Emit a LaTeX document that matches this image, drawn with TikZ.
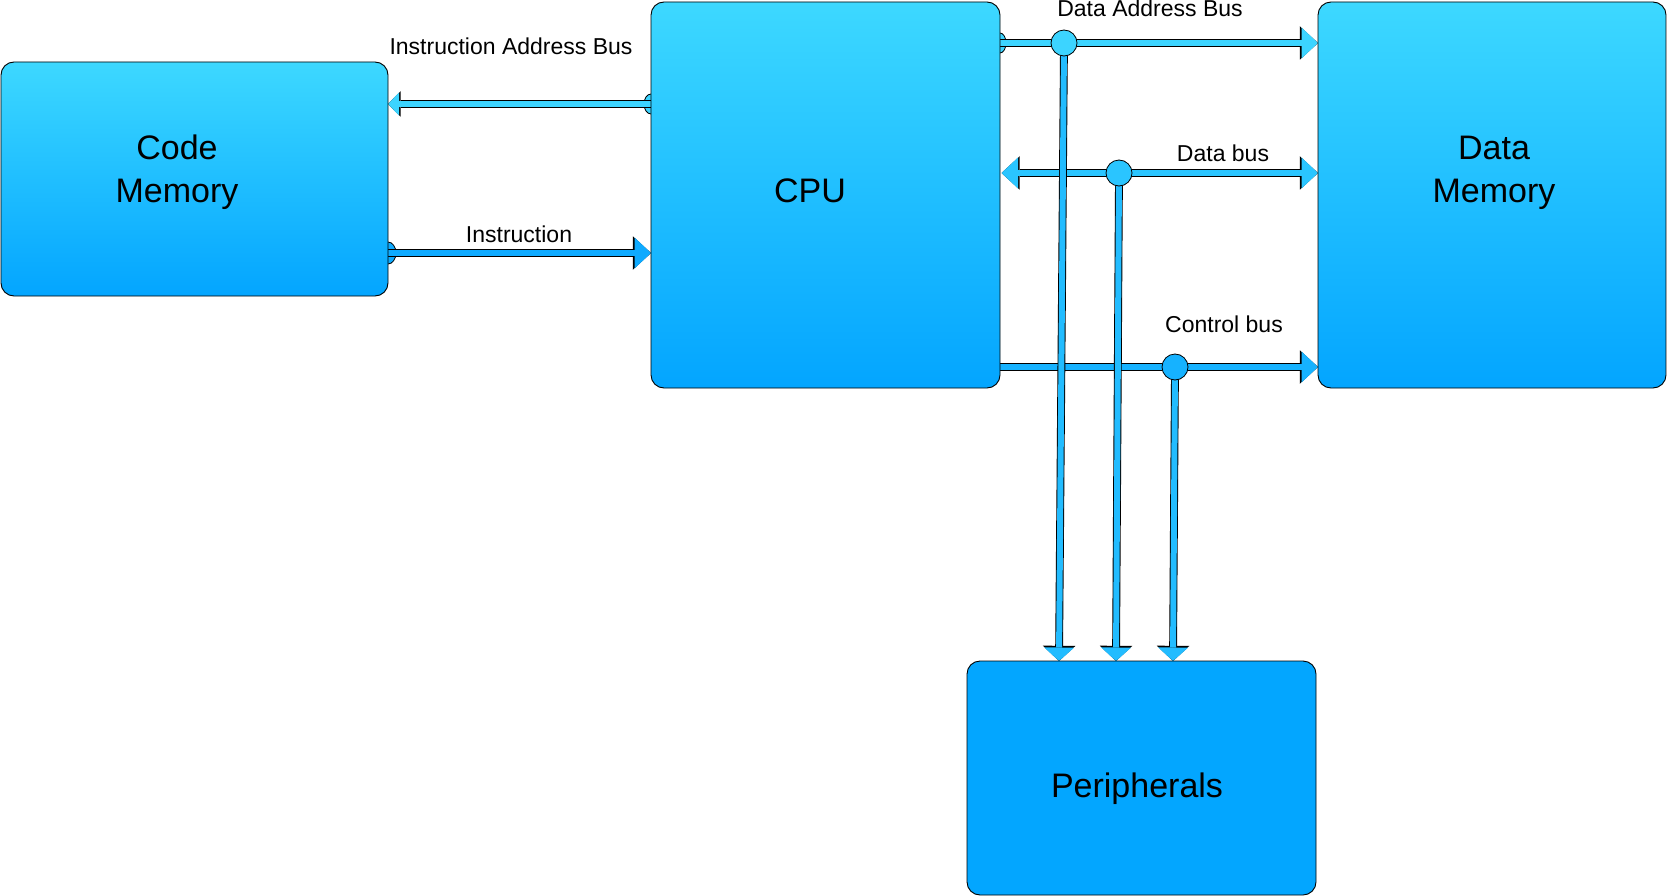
\documentclass[tikz,border=0pt]{standalone}
\usepackage{fontspec}
\setmainfont{Liberation Sans}
\usetikzlibrary{arrows.meta,calc}
\definecolor{boxtop}{RGB}{61,216,255}
\definecolor{boxbot}{RGB}{3,165,255}
\definecolor{perblue}{RGB}{3,166,255}
\definecolor{cLight}{RGB}{60,212,255}
\definecolor{cMid}{RGB}{42,197,255}
\definecolor{cDark}{RGB}{22,178,255}
\definecolor{cInstr}{RGB}{14,170,255}
\definecolor{cVert}{RGB}{34,188,255}
\pgfdeclarelayer{bg}
\pgfdeclarelayer{top}
\pgfsetlayers{bg,main,top}
\tikzset{
  box/.style={draw=black,line width=0.9pt,rounded corners=13pt,top color=boxtop,bottom color=boxbot,inner sep=0pt,outer sep=0pt},
  boxtext/.style={font=\fontsize{34}{43}\selectfont,align=center,inner sep=0pt},
  lbl/.style={font=\fontsize{23}{27}\selectfont,inner sep=0pt},
  tipS/.style={arrows={-Triangle[width=23pt,length=11pt,line width=0pt]}},
  tipSo/.style={arrows={-Triangle[width=25.5pt,length=12.6pt,line width=0pt]}},
  tipL/.style={arrows={-Triangle[width=31pt,length=16.5pt,line width=0pt]}},
  tipLo/.style={arrows={-Triangle[width=33.5pt,length=18.2pt,line width=0pt]}},
  tipLL/.style={arrows={Triangle[width=31pt,length=16.5pt,line width=0pt]-Triangle[width=31pt,length=16.5pt,line width=0pt]}},
  tipLLo/.style={arrows={Triangle[width=33.5pt,length=18.2pt,line width=0pt]-Triangle[width=33.5pt,length=18.2pt,line width=0pt]}},
  tipV/.style={arrows={-Triangle[width=30pt,length=13.5pt,line width=0pt]}},
  tipVo/.style={arrows={-Triangle[width=32.5pt,length=15.2pt,line width=0pt]}},
  bus/.style 2 args={line width=6pt,draw=#1,#2,preaction={draw=black,line width=7.8pt,#2o}},
  startcap/.style={fill=#1,draw=black,line width=0.8pt},
  junction/.style={fill=#1,draw=black,line width=0.8pt}
}
\begin{document}
\begin{tikzpicture}[x=1pt,y=-1pt]
\useasboundingbox (0,0) rectangle (1667,896);
% boxes
\node[box,minimum width=387pt,minimum height=234pt] (code) at (194.5,179) {};
\node[box,minimum width=349pt,minimum height=386pt] (cpu) at (825.5,195) {};
\node[box,minimum width=348pt,minimum height=386pt] (dmem) at (1492,195) {};
\node[box,top color=perblue,bottom color=perblue,minimum width=349pt,minimum height=234pt] (per) at (1141.5,778) {};
% box texts
\node[boxtext,anchor=base] (codeT) at (177,203) {Code\\Memory};
\node[boxtext,anchor=base] (cpuT) at (810,203) {CPU};
\node[boxtext,anchor=base] (dmemT) at (1494,203) {Data\\Memory};
\node[boxtext,anchor=base] (perT) at (1137,797) {Peripherals};
% bus labels
\node[lbl,anchor=base] (lIAB) at (511,55) {Instruction Address Bus};
\node[lbl,anchor=base] (lIns) at (519,242) {Instruction};
\node[lbl,anchor=base] (lDAB) at (1150,17) {Data Address Bus};
\node[lbl,anchor=base] (lDB) at (1223,162) {Data bus};
\node[lbl,anchor=base] (lCB) at (1224,332) {Control bus};
% helper coordinates
\coordinate (yIAB) at (0,104);
\coordinate (yIns) at (0,253);
\coordinate (yDAB) at (0,43);
\coordinate (yDB) at (0,173);
\coordinate (yCB) at (0,367);
\coordinate (j1) at (1064,43);
\coordinate (j2) at (1119,173);
\coordinate (j3) at (1175,367);
\coordinate (x1) at (1059,0);
\coordinate (x2) at (1116,0);
\coordinate (x3) at (1173,0);
\begin{pgfonlayer}{bg}
  % start caps
  \draw[startcap=cLight] (cpu.west |- yIAB) ellipse [x radius=7pt,y radius=10pt];
  \draw[startcap=cInstr] (code.east |- yIns) ellipse [x radius=8pt,y radius=11pt];
  \draw[startcap=cLight] (cpu.east |- yDAB) ellipse [x radius=6pt,y radius=10pt];
  % horizontal buses
  \draw[bus={cLight}{tipS}] (cpu.west |- yIAB) -- (code.east |- yIAB);
  \draw[bus={cInstr}{tipL}] (code.east |- yIns) -- (cpu.west |- yIns);
  \draw[bus={cLight}{tipL}] (cpu.east |- yDAB) -- (dmem.west |- yDAB);
  \draw[bus={cMid}{tipLL}] ([xshift=1.5pt]cpu.east |- yDB) -- (dmem.west |- yDB);
  \draw[bus={cDark}{tipL}] (cpu.east |- yCB) -- (dmem.west |- yCB);
  % vertical buses to peripherals
  \draw[bus={cVert}{tipV}] (j1) -- (x1 |- per.north);
  \draw[bus={cVert}{tipV}] (j2) -- (x2 |- per.north);
  \draw[bus={cVert}{tipV}] (j3) -- (x3 |- per.north);
  % junctions
  \draw[junction=cLight] (j1) circle (13pt);
  \draw[junction=cMid] (j2) circle (13pt);
  \draw[junction=cDark] (j3) circle (13pt);
\end{pgfonlayer}
\end{tikzpicture}
\end{document}
